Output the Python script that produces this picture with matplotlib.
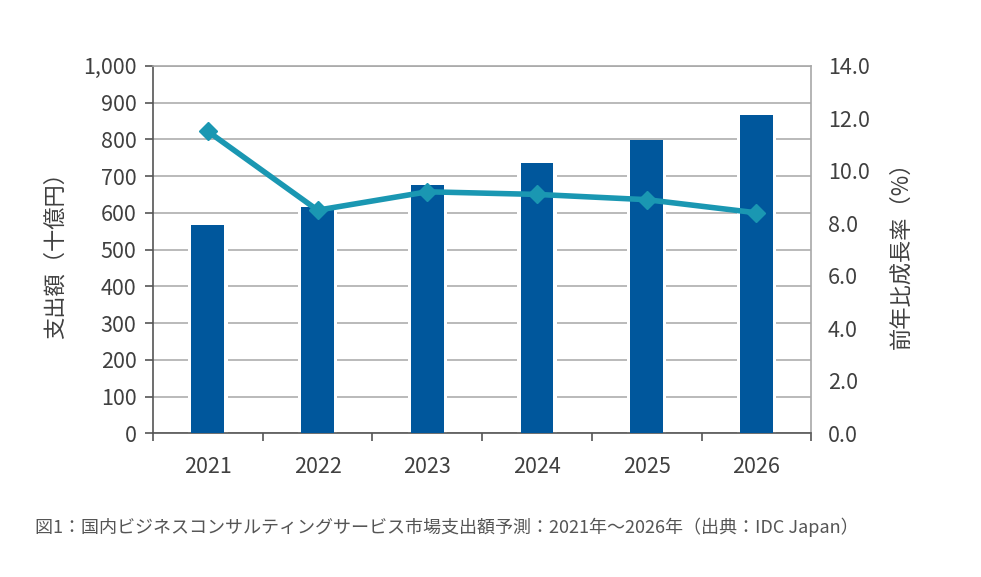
import numpy as np
import matplotlib.pyplot as plt

plt.rcParams['font.family'] = ['Noto Sans CJK JP', 'DejaVu Sans']

# データ
years = ['2021', '2022', '2023', '2024', '2025', '2026']
spending = [568, 616, 676, 736, 798, 866]       # 支出額（十億円）
growth = [11.5, 8.5, 9.2, 9.1, 8.9, 8.4]        # 前年比成長率（%）

txt = '#404040'
x = np.arange(len(years))

fig = plt.figure(figsize=(9.81, 5.77), dpi=100)
ax = fig.add_axes([0.156, 0.249, 0.671, 0.637])

ax.set_axisbelow(True)
ax.yaxis.grid(True, color='#b4b4b4', linewidth=1.3)
# 白い縁取り（目盛線の切れ目）
ax.bar(x, spending, width=0.36, color='white', zorder=2)
ax.bar(x, spending, width=0.30, color='#00579c', zorder=3)
ax.set_ylim(0, 1000)
ax.set_xlim(-0.5, 5.5)
ax.set_yticks(np.arange(0, 1001, 100))
ax.set_yticklabels([f'{v:,}' for v in range(0, 1001, 100)])
ax.set_xticks(x)
ax.set_xticklabels(years)
ax.set_xticks(np.arange(-0.5, 5.6, 1), minor=True)
ax.tick_params(axis='x', which='major', length=0, pad=16, labelsize=15.5, labelcolor=txt)
ax.tick_params(axis='x', which='minor', length=6, direction='out', color='#555555', width=1.2)
ax.tick_params(axis='y', length=6, direction='out', color='#555555', width=1.2,
               labelsize=15.5, labelcolor=txt, pad=6)
ax.set_ylabel('支出額（十億円）', fontsize=16, color=txt, labelpad=12)

for s in ['left', 'bottom']:
    ax.spines[s].set_color('#555555')
    ax.spines[s].set_linewidth(1.2)
for s in ['top', 'right']:
    ax.spines[s].set_color('#a8a8a8')
    ax.spines[s].set_linewidth(1.2)

ax2 = ax.twinx()
ax2.plot(x, growth, color='#1a97b2', linewidth=4, marker='D', markersize=9, zorder=4)
ax2.set_ylim(0, 14)
ax2.set_yticks(np.arange(0, 14.1, 2))
ax2.set_yticklabels([f'{v:.1f}' for v in np.arange(0, 14.1, 2)])
ax2.tick_params(axis='y', length=0, labelsize=15.5, labelcolor=txt, pad=12)
ax2.set_ylabel('前年比成長率（%）', fontsize=16, color=txt, labelpad=14)
for s in ax2.spines.values():
    s.set_visible(False)

fig.text(0.036, 0.087, '図1：国内ビジネスコンサルティングサービス市場支出額予測：2021年～2026年（出典：IDC Japan）',
         fontsize=13, color='#555555', va='center')

fig.savefig('out.png', dpi=100)
